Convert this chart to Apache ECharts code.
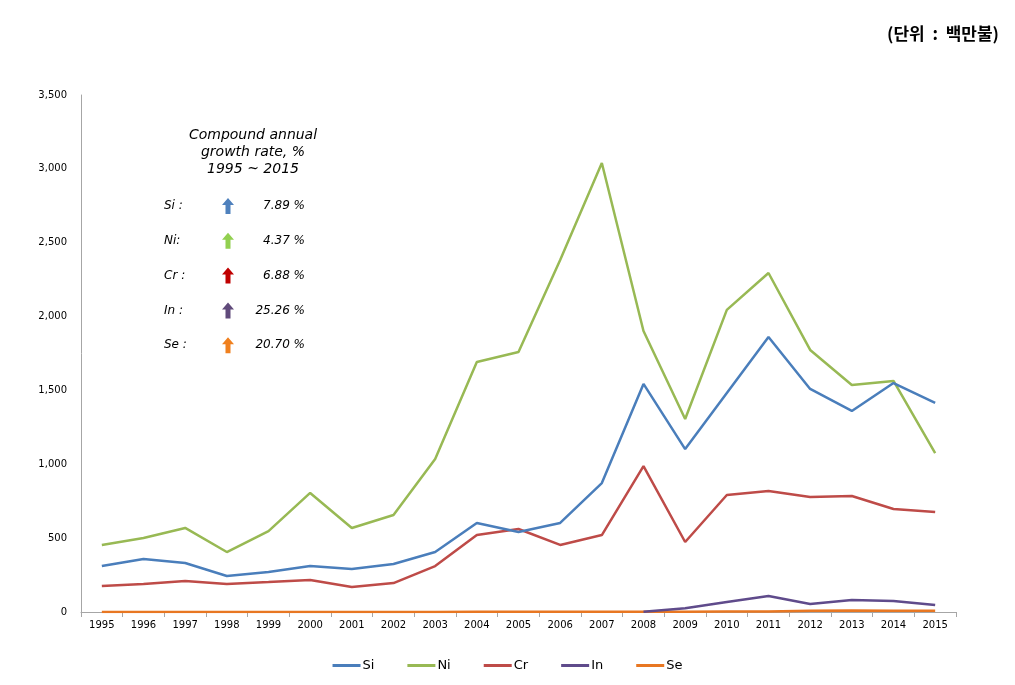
<!DOCTYPE html>
<html><head><meta charset="utf-8">
<script src="https://cdn.jsdelivr.net/npm/echarts@6/dist/echarts.min.js"></script>
<style>html,body{margin:0;padding:0;background:#fff}#c{width:1015px;height:685px}</style>
</head><body><div id="c"></div>
<script>
const years = ['1995','1996','1997','1998','1999','2000','2001','2002','2003','2004','2005','2006','2007','2008','2009','2010','2011','2012','2013','2014','2015'];
const si = [311,359,332,244,271,311,291,325,406,603,542,603,873,1544,1103,1483,1862,1510,1361,1550,1415];
const ni = [454,501,569,406,548,806,569,657,1036,1693,1760,2383,3040,1902,1307,2045,2295,1774,1537,1564,1076];
const cr = [176,190,210,190,203,217,169,196,311,521,562,454,521,988,474,792,819,779,785,697,677];
const inn = [null,null,null,null,null,null,null,null,null,null,null,null,null,2,25,68,108,54,81,75,47];
const se = [0.3,0.3,0.4,0.4,0.5,0.5,0.6,0.7,0.8,1,1,1.2,1.5,2,2,3,4,8,10,9,8];
const seriesNames = ['Si','Ni','Cr','In','Se'];
const colors = ['#4a7ebb','#98b954','#be4b48','#5f4b8b','#e87722'];
const arrowColors = ['#4f81bd','#92d050','#c00000','#604a7b','#f0801e'];
const cagrLabels = ['Si :','Ni:','Cr :','In :','Se :'];
const cagrValues = ['7.89 %','4.37 %','6.88 %','25.26 %','20.70 %'];
const yTicks = [0,500,1000,1500,2000,2500,3000,3500];

const chart = echarts.init(document.getElementById('c'));
const dataSets = [si, ni, cr, inn, se];
const graphics = [];
const titleLines = ['Compound annual','growth rate, %','1995 ~ 2015'];
const noteFont = '"DejaVu Sans", sans-serif';
titleLines.forEach((t,i)=>{
  graphics.push({type:'text', x:253, y:128+i*17, style:{text:t, fill:'#000', font:'italic 14px ' + noteFont, textAlign:'center'}});
});
cagrLabels.forEach((t,i)=>{
  const y = 206 + i*34.8;
  graphics.push({type:'text', x:164, y:y, style:{text:t, fill:'#000', font:'italic 12px ' + noteFont, textAlign:'left', textVerticalAlign:'middle'}});
  graphics.push({type:'polygon', shape:{points:[[228,y-8],[234,y-1],[230.5,y-1],[230.5,y+8],[225.5,y+8],[225.5,y-1],[222,y-1]]}, style:{fill:arrowColors[i]}});
  graphics.push({type:'text', x:305, y:y, style:{text:cagrValues[i], fill:'#000', font:'italic 12px ' + noteFont, textAlign:'right', textVerticalAlign:'middle'}});
});
graphics.push({type:'text', x:999, y:34, style:{text:'(단위  :  백만불)', fill:'#000', font:'bold 17px "Noto Sans CJK KR", sans-serif', textAlign:'right', textVerticalAlign:'middle'}});

chart.setOption({
  animation:false,
  color: colors,
  grid:{left:81, right:59, top:95, bottom:73},
  legend:{bottom:8, left:'center', itemGap:33, itemWidth:28, itemHeight:3, icon:'rect',
    textStyle:{fontSize:13, color:'#000', fontFamily:'"DejaVu Sans", sans-serif', padding:[0,0,0,-3]},
    data:seriesNames},
  xAxis:{type:'category', data:years, boundaryGap:true,
    axisLine:{lineStyle:{color:'#a6a6a6'}},
    axisTick:{show:true, alignWithLabel:false, length:5, lineStyle:{color:'#a6a6a6'}},
    axisLabel:{color:'#000', fontSize:10, margin:8, fontFamily:'"DejaVu Sans", sans-serif'}},
  yAxis:{type:'value', min:0, max:3500, interval:500,
    axisLine:{show:true, lineStyle:{color:'#a6a6a6'}},
    axisTick:{show:false}, splitLine:{show:false},
    axisLabel:{color:'#000', fontSize:10, margin:14, fontFamily:'"DejaVu Sans", sans-serif',
      formatter:v=>v.toLocaleString('en-US')}},
  series: seriesNames.map((n,i)=>({name:n, type:'line', data:dataSets[i], showSymbol:false, symbol:'none',
    lineStyle:{width:2.5, color:colors[i]}, itemStyle:{color:colors[i]}, z: 10-i})),
  graphic: graphics
});
</script></body></html>
